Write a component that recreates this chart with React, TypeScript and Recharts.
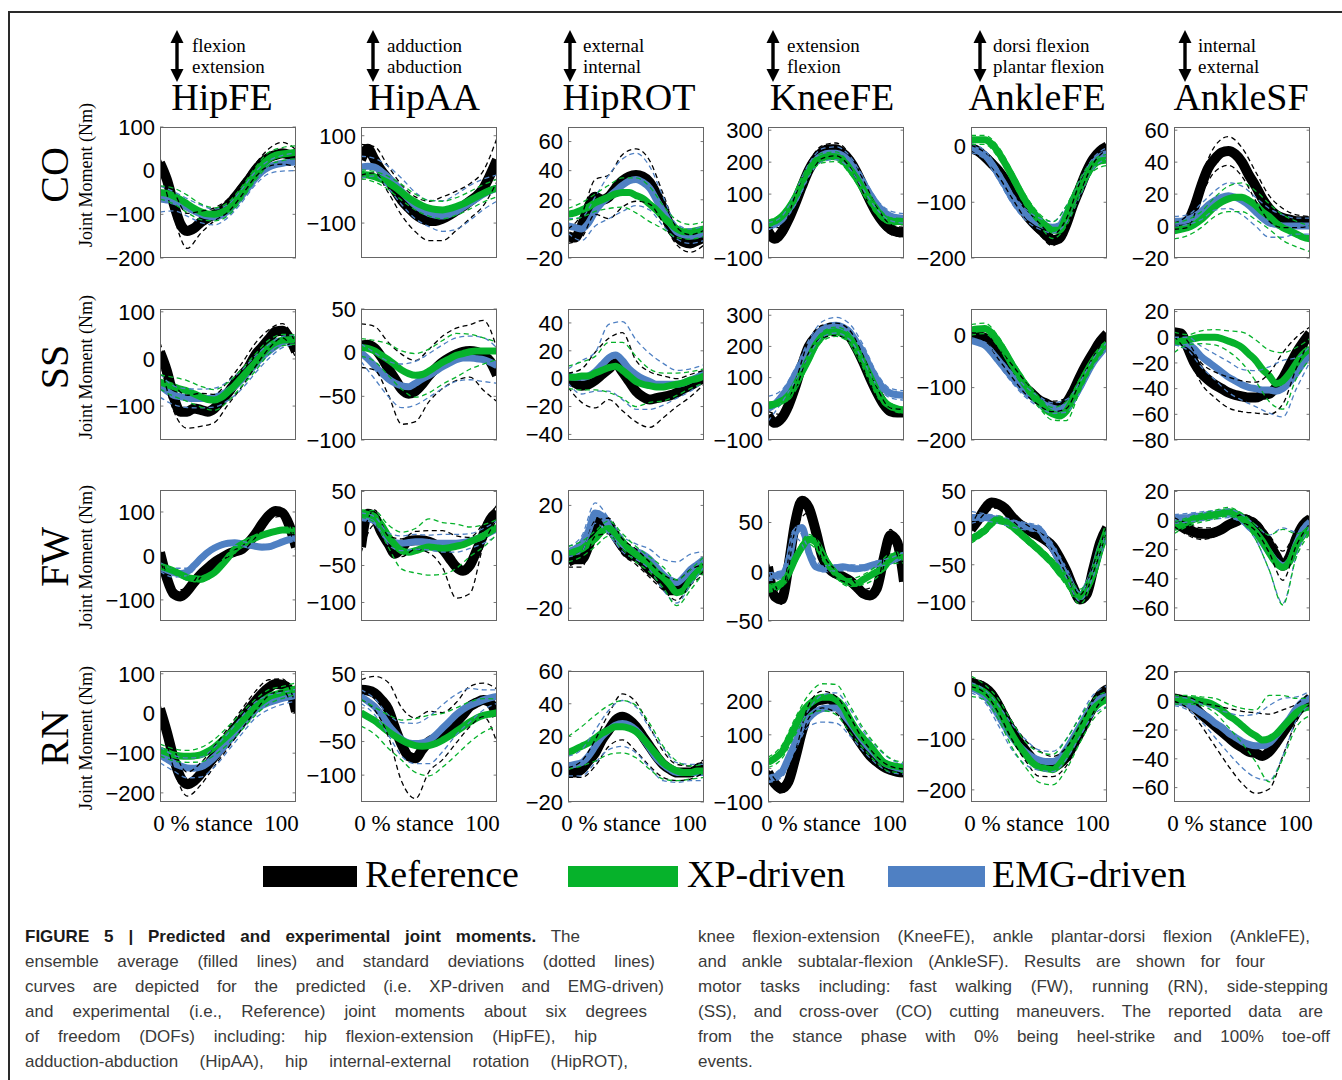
import React from "react";
import { LineChart, Line, XAxis, YAxis, ReferenceLine } from "recharts";

// stance phase samples (%) for the means, and for the standard deviations
const STANCE = [0, 5, 10, 15, 20, 25, 30, 35, 40, 45, 50, 55, 60, 65, 70, 75, 80, 85, 90, 95, 100];
const SD_STANCE = [0, 10, 20, 30, 40, 50, 60, 70, 80, 90, 100];

const TASKS = ["CO", "SS", "FW", "RN"];
const JOINTS = ["HipFE", "HipAA", "HipROT", "KneeFE", "AnkleFE", "AnkleSF"];
const JOINT_POS = ["flexion", "adduction", "external", "extension", "dorsi flexion", "internal"];
const JOINT_NEG = ["extension", "abduction", "internal", "flexion", "plantar flexion", "external"];
const SERIES_NAMES = ["Reference", "XP-driven", "EMG-driven"];

// ---- CO ----
const coHipFE = {
  domain: [-200, 100], ticks: [-200, -100, 0, 100],
  ref: [18, -20, -75, -122, -138, -132, -118, -108, -100, -92, -80, -62, -42, -22, 0, 18, 30, 36, 40, 36, 28],
  xp: [-50, -52, -58, -66, -76, -86, -94, -99, -100, -96, -88, -72, -52, -30, -8, 12, 27, 35, 38, 40, 42],
  emg: [-65, -67, -70, -76, -84, -92, -99, -104, -106, -102, -92, -76, -58, -38, -18, -2, 8, 14, 17, 19, 20],
  refSd: [10, 30, 40, 25, 15, 15, 15, 15, 20, 25, 20],
  xpSd: [15, 18, 20, 18, 15, 15, 15, 15, 15, 15, 15],
  emgSd: [30, 22, 20, 20, 18, 15, 15, 15, 15, 18, 20],
};
const coHipAA = {
  domain: [-180, 120], ticks: [-100, 0, 100],
  ref: [45, 70, 45, 20, 0, -25, -48, -65, -80, -90, -95, -95, -90, -82, -72, -62, -50, -38, -20, 10, 45],
  xp: [12, 10, 6, 0, -8, -18, -30, -42, -52, -60, -66, -69, -70, -67, -62, -56, -48, -40, -32, -25, -20],
  emg: [28, 30, 28, 18, 5, -10, -28, -45, -60, -70, -78, -82, -84, -80, -74, -64, -54, -44, -34, -26, -20],
  refSd: [35, 30, 30, 35, 40, 45, 50, 45, 40, 40, 50],
  xpSd: [10, 12, 15, 18, 18, 18, 20, 20, 20, 20, 20],
  emgSd: [25, 20, 25, 30, 30, 30, 35, 40, 40, 35, 30],
};
const coHipROT = {
  domain: [-20, 70], ticks: [-20, 0, 20, 40, 60],
  ref: [-5, -6, 2, 15, 22, 20, 22, 28, 33, 36, 37, 36, 32, 24, 14, 2, -5, -9, -10, -8, -6],
  xp: [10, 11, 13, 15, 18, 20, 22, 24, 25, 25, 23, 21, 17, 13, 8, 4, 0, -2, -2, -1, 0],
  emg: [2, 1, 0, 4, 12, 18, 22, 26, 30, 33, 34, 32, 28, 20, 12, 4, -2, -4, -5, -4, -3],
  refSd: [5, 8, 12, 15, 18, 18, 15, 10, 6, 6, 5],
  xpSd: [4, 5, 6, 8, 10, 12, 12, 8, 6, 5, 5],
  emgSd: [5, 8, 10, 15, 18, 18, 15, 10, 5, 5, 5],
};
const coKneeFE = {
  domain: [-100, 310], ticks: [-100, 0, 100, 200, 300],
  ref: [-15, -40, -20, 20, 70, 125, 175, 210, 232, 240, 240, 228, 205, 170, 125, 80, 40, 10, -10, -18, -20],
  xp: [8, 15, 30, 55, 90, 135, 175, 200, 213, 218, 217, 205, 180, 150, 115, 82, 50, 25, 16, 14, 14],
  emg: [0, 5, 20, 50, 85, 130, 175, 205, 222, 228, 228, 220, 200, 170, 135, 100, 68, 45, 32, 26, 24],
  refSd: [10, 15, 25, 25, 20, 20, 20, 20, 20, 15, 15],
  xpSd: [10, 10, 15, 15, 15, 15, 15, 15, 15, 10, 10],
  emgSd: [10, 10, 20, 20, 20, 20, 20, 20, 15, 15, 15],
};
const coAnkleFE = {
  domain: [-200, 35], ticks: [-200, -100, 0],
  ref: [-3, -8, -18, -30, -43, -60, -82, -103, -120, -135, -147, -158, -168, -165, -140, -105, -75, -45, -22, -8, 0],
  xp: [12, 12, 12, 5, -10, -30, -52, -75, -97, -115, -130, -142, -150, -150, -125, -95, -73, -52, -34, -26, -24],
  emg: [-3, -8, -15, -30, -50, -70, -92, -110, -122, -130, -138, -143, -145, -142, -122, -98, -75, -50, -30, -18, -12],
  refSd: [5, 8, 10, 10, 10, 10, 10, 10, 10, 8, 5],
  xpSd: [8, 8, 10, 10, 10, 10, 15, 18, 15, 10, 10],
  emgSd: [8, 8, 10, 10, 10, 10, 10, 15, 15, 10, 10],
};
const coAnkleSF = {
  domain: [-20, 62], ticks: [-20, 0, 20, 40, 60],
  ref: [0, 1, 3, 12, 25, 36, 42, 46, 47, 45, 40, 32, 25, 17, 11, 7, 5, 4, 3, 3, 3],
  xp: [-3, -2, -1, 1, 4, 8, 12, 15, 17, 18, 18, 16, 13, 9, 6, 2, -1, -3, -5, -7, -8],
  emg: [3, 3, 4, 6, 9, 13, 16, 18, 19, 18, 16, 13, 9, 5, 2, 1, 0, 0, 0, 0, 0],
  refSd: [2, 4, 6, 8, 9, 9, 9, 8, 6, 4, 3],
  xpSd: [5, 5, 5, 6, 8, 9, 9, 8, 8, 8, 8],
  emgSd: [3, 3, 5, 6, 8, 9, 9, 9, 7, 5, 5],
};

// ---- SS ----
const ssHipFE = {
  domain: [-172, 106], ticks: [-100, 0, 100],
  ref: [15, -25, -80, -112, -112, -105, -108, -112, -105, -88, -72, -52, -35, -18, 8, 25, 42, 58, 60, 45, 16],
  xp: [-49, -54, -59, -64, -68, -74, -80, -86, -87, -82, -70, -56, -40, -24, -8, 10, 25, 35, 40, 41, 41],
  emg: [-56, -68, -77, -80, -83, -84, -84, -84, -82, -76, -68, -58, -44, -28, -12, 4, 16, 27, 36, 40, 41],
  refSd: [20, 30, 35, 35, 30, 25, 25, 25, 20, 15, 15],
  xpSd: [15, 20, 22, 22, 22, 20, 18, 18, 15, 12, 10],
  emgSd: [25, 20, 20, 20, 20, 20, 20, 18, 15, 12, 10],
};
const ssHipAA = {
  domain: [-100, 50], ticks: [-100, -50, 0, 50],
  ref: [8, 9, 5, -5, -18, -30, -42, -47, -44, -36, -26, -18, -11, -6, -2, 1, 2, 1, -3, -10, -26],
  xp: [6, 5, 2, -3, -8, -14, -20, -24, -26, -25, -21, -16, -11, -7, -3, -1, 1, 2, 2, 2, 2],
  emg: [0, -7, -15, -23, -30, -35, -38, -39, -35, -30, -26, -21, -16, -12, -8, -6, -6, -7, -8, -11, -15],
  refSd: [25, 25, 30, 40, 35, 30, 30, 30, 30, 40, 30],
  xpSd: [10, 12, 18, 22, 25, 25, 25, 25, 20, 15, 10],
  emgSd: [10, 15, 20, 25, 25, 25, 25, 25, 25, 25, 20],
};
const ssHipROT = {
  domain: [-44, 50], ticks: [-40, -20, 0, 20, 40],
  ref: [-1, -3, -5, -4, -1, 3, 7, 11, 5, -2, -9, -13, -15, -14, -13, -12, -10, -7, -5, -2, 1],
  xp: [1, 1, 2, 2, 4, 6, 8, 9, 6, 2, -2, -4, -5, -6, -6, -5, -4, -3, -1, 0, 2],
  emg: [2, 1, 1, 2, 5, 10, 15, 17, 13, 7, 3, 0, -2, -4, -4, -4, -4, -3, -1, 1, 4],
  refSd: [5, 12, 20, 22, 28, 22, 20, 15, 10, 8, 5],
  xpSd: [8, 10, 12, 18, 20, 18, 12, 10, 8, 6, 5],
  emgSd: [5, 12, 14, 24, 28, 25, 20, 15, 10, 8, 6],
};
const ssKneeFE = {
  domain: [-100, 320], ticks: [-100, 0, 100, 200, 300],
  ref: [-21, -45, -30, 10, 70, 140, 200, 230, 248, 255, 255, 245, 232, 195, 150, 100, 54, 15, -8, -12, -12],
  xp: [11, 15, 25, 40, 75, 118, 160, 205, 232, 245, 247, 240, 226, 190, 150, 105, 60, 25, 8, 0, -5],
  emg: [0, 15, 40, 70, 110, 150, 195, 230, 255, 265, 268, 262, 247, 215, 180, 135, 95, 65, 50, 45, 43],
  refSd: [12, 12, 15, 20, 20, 20, 20, 20, 15, 10, 10],
  xpSd: [10, 10, 15, 15, 15, 15, 15, 15, 15, 10, 10],
  emgSd: [40, 20, 20, 25, 25, 25, 25, 25, 20, 15, 15],
};
const ssAnkleFE = {
  domain: [-200, 50], ticks: [-200, -100, 0],
  ref: [0, -2, -5, -15, -35, -52, -68, -84, -100, -112, -124, -130, -136, -139, -130, -108, -80, -55, -33, -12, 3],
  xp: [10, 12, 13, 5, -12, -32, -55, -75, -95, -112, -128, -142, -150, -154, -145, -122, -95, -70, -48, -30, -16],
  emg: [-10, -14, -19, -32, -48, -64, -80, -94, -108, -118, -127, -134, -139, -142, -135, -122, -100, -75, -52, -35, -19],
  refSd: [5, 6, 10, 12, 12, 10, 10, 10, 10, 8, 5],
  xpSd: [10, 10, 10, 10, 10, 10, 12, 18, 12, 8, 8],
  emgSd: [5, 5, 8, 10, 10, 10, 10, 12, 10, 8, 5],
};
const ssAnkleSF = {
  domain: [-80, 22], ticks: [-80, -60, -40, -20, 0, 20],
  ref: [4, 3, -8, -20, -28, -33, -37, -40, -43, -45, -46, -47, -47, -45, -44, -39, -32, -22, -12, -4, 3],
  xp: [-4, -3, -2, -1, 0, 0, 0, -1, -3, -5, -8, -13, -18, -25, -30, -36, -34, -28, -20, -13, -9],
  emg: [-3, -4, -5, -9, -15, -19, -23, -27, -31, -34, -37, -39, -40, -41, -41, -42, -40, -35, -28, -20, -13],
  refSd: [3, 5, 8, 10, 12, 12, 12, 16, 20, 12, 5],
  xpSd: [8, 4, 5, 6, 8, 12, 16, 20, 22, 12, 8],
  emgSd: [3, 5, 8, 10, 12, 12, 14, 18, 22, 12, 6],
};

// ---- FW ----
const fwHipFE = {
  domain: [-148, 150], ticks: [-100, 0, 100],
  ref: [8, -50, -86, -92, -80, -60, -42, -28, -15, -5, 4, 10, 15, 30, 49, 72, 92, 102, 98, 70, 20],
  xp: [-23, -28, -34, -42, -49, -52, -53, -47, -38, -22, -4, 15, 26, 34, 41, 47, 52, 56, 59, 59, 56],
  emg: [-25, -32, -38, -40, -36, -22, -6, 8, 18, 25, 29, 30, 28, 25, 22, 20, 21, 26, 32, 37, 41],
  refSd: [8, 8, 6, 6, 6, 6, 6, 8, 8, 8, 10],
  xpSd: [5, 5, 6, 6, 5, 5, 5, 5, 5, 5, 5],
  emgSd: [10, 10, 8, 8, 5, 5, 5, 5, 5, 5, 5],
};
const fwHipAA = {
  domain: [-125, 52], ticks: [-100, -50, 0, 50],
  ref: [-25, 20, 15, -5, -20, -34, -26, -17, -16, -16, -18, -22, -28, -40, -52, -57, -50, -30, -8, 12, 22],
  xp: [20, 19, 16, 5, -10, -22, -30, -32, -30, -27, -25, -26, -27, -26, -24, -22, -18, -14, -10, -4, 2],
  emg: [16, 14, 11, 0, -14, -19, -20, -19, -18, -18, -19, -20, -20, -20, -20, -19, -17, -14, -10, -5, 0],
  refSd: [8, 10, 10, 12, 12, 15, 25, 42, 38, 15, 10],
  xpSd: [5, 8, 15, 25, 30, 38, 35, 30, 20, 15, 10],
  emgSd: [5, 5, 8, 10, 10, 10, 12, 12, 10, 10, 10],
};
const fwHipROT = {
  domain: [-25, 26], ticks: [-20, 0, 20],
  ref: [-2, -1, -1, 4, 11, 15, 12, 8, 4, 1, 0, -2, -5, -7, -10, -13, -13, -11, -8, -5, -5],
  xp: [1, 2, 3, 5, 7, 10, 11, 9, 6, 3, 1, -1, -3, -6, -8, -11, -14, -13, -9, -6, -3],
  emg: [2, 3, 5, 10, 17, 16, 12, 7, 5, 3, 2, 1, -1, -4, -7, -9, -10, -8, -5, -3, -1],
  refSd: [2, 3, 3, 3, 3, 3, 3, 3, 4, 3, 2],
  xpSd: [3, 3, 3, 3, 3, 3, 3, 4, 5, 4, 3],
  emgSd: [2, 3, 4, 3, 3, 3, 4, 6, 8, 6, 3],
};
const fwKneeFE = {
  domain: [-50, 83], ticks: [-50, 0, 50],
  ref: [5, -25, -28, 5, 50, 72, 65, 42, 15, 3, -2, -5, -9, -15, -22, -24, -17, 13, 37, 30, -10],
  xp: [-17, -15, -12, -2, 13, 25, 33, 30, 18, 6, -2, -8, -11, -12, -8, -4, 0, 4, 13, 17, 13],
  emg: [-5, -4, -3, 10, 40, 45, 20, 5, 3, 3, 4, 5, 4, 3, 4, 6, 8, 9, 11, 14, 17],
  refSd: [5, 5, 8, 5, 5, 4, 4, 4, 5, 6, 5],
  xpSd: [4, 4, 5, 5, 4, 4, 4, 5, 6, 5, 4],
  emgSd: [4, 4, 5, 4, 3, 3, 3, 3, 3, 3, 3],
};
const fwAnkleFE = {
  domain: [-126, 51], ticks: [-100, -50, 0, 50],
  ref: [-2, 10, 25, 34, 32, 26, 15, 6, 0, -6, -11, -17, -25, -40, -58, -80, -97, -90, -55, -20, 0],
  xp: [-16, -10, -4, 6, 11, 8, 2, -6, -14, -22, -30, -39, -48, -60, -70, -85, -93, -82, -62, -30, -2],
  emg: [14, 14, 14, 13, 11, 8, 6, 4, 2, 0, -2, -15, -28, -45, -62, -82, -93, -80, -60, -28, -7],
  refSd: [4, 6, 5, 5, 5, 5, 5, 5, 6, 5, 4],
  xpSd: [5, 5, 5, 5, 5, 5, 6, 8, 10, 8, 5],
  emgSd: [8, 5, 5, 5, 5, 5, 5, 5, 6, 5, 5],
};
const fwAnkleSF = {
  domain: [-69, 21], ticks: [-60, -40, -20, 0, 20],
  ref: [-1, -4, -6, -8, -9, -9, -8, -6, -3, -1, 1, 0, -3, -9, -16, -24, -31, -25, -12, -3, 1],
  xp: [-5, -3, -1, 1, 2, 3, 4, 5, 6, 5, 2, -3, -8, -14, -22, -29, -32, -28, -17, -10, -6],
  emg: [1, 2, 2, 3, 3, 4, 4, 5, 5, 3, 1, -4, -8, -15, -22, -28, -31, -28, -16, -6, -1],
  refSd: [3, 4, 4, 3, 3, 3, 4, 6, 10, 5, 3],
  xpSd: [4, 3, 3, 3, 3, 3, 5, 12, 26, 8, 3],
  emgSd: [3, 3, 3, 3, 3, 3, 5, 12, 26, 8, 3],
};

// ---- RN ----
const rnHipFE = {
  domain: [-223, 107], ticks: [-200, -100, 0, 100],
  ref: [12, -46, -112, -160, -178, -170, -152, -130, -108, -85, -62, -38, -15, 8, 30, 50, 65, 74, 72, 60, 5],
  xp: [-92, -98, -104, -107, -108, -107, -104, -96, -85, -70, -55, -38, -20, -3, 15, 30, 42, 48, 53, 58, 62],
  emg: [-104, -115, -125, -132, -137, -138, -135, -125, -110, -92, -72, -52, -30, -10, 8, 20, 28, 33, 38, 42, 46],
  refSd: [10, 25, 30, 28, 25, 25, 25, 25, 20, 15, 15],
  xpSd: [15, 15, 15, 18, 20, 22, 22, 20, 18, 15, 15],
  emgSd: [20, 20, 25, 25, 25, 22, 22, 20, 18, 15, 15],
};
const rnHipAA = {
  domain: [-140, 55], ticks: [-100, -50, 0, 50],
  ref: [27, 26, 22, 12, -2, -30, -55, -72, -75, -62, -50, -45, -42, -35, -22, -10, 2, 8, 12, 8, -12],
  xp: [-7, -13, -19, -27, -35, -42, -48, -53, -56, -57, -56, -53, -48, -42, -35, -28, -21, -15, -11, -9, -7],
  emg: [17, 10, 2, -10, -25, -37, -47, -52, -53, -52, -48, -40, -30, -20, -10, -2, 4, 8, 12, 15, 17],
  refSd: [15, 25, 40, 55, 60, 45, 35, 30, 30, 25, 40],
  xpSd: [20, 20, 25, 30, 40, 45, 40, 35, 30, 25, 20],
  emgSd: [10, 12, 15, 25, 30, 35, 35, 30, 25, 15, 10],
};
const rnHipROT = {
  domain: [-20, 60], ticks: [-20, 0, 20, 40, 60],
  ref: [-2, -2, 0, 5, 10, 18, 24, 30, 32, 30, 26, 20, 14, 8, 3, 0, -2, -2, -2, 0, 2],
  xp: [10, 12, 14, 16, 19, 22, 24, 26, 26, 25, 23, 19, 14, 9, 4, 1, -1, -2, -2, -1, -1],
  emg: [2, 3, 4, 8, 14, 20, 24, 27, 28, 27, 24, 19, 13, 7, 3, 0, -2, -2, -2, -2, -2],
  refSd: [3, 5, 8, 10, 14, 15, 12, 8, 5, 4, 4],
  xpSd: [10, 12, 14, 15, 16, 16, 14, 10, 6, 4, 4],
  emgSd: [6, 8, 10, 12, 14, 14, 12, 10, 6, 5, 5],
};
const rnKneeFE = {
  domain: [-100, 290], ticks: [-100, 0, 100, 200],
  ref: [-12, -45, -60, -40, 30, 110, 170, 200, 205, 208, 190, 170, 130, 95, 65, 38, 20, 5, -4, -10, -12],
  xp: [18, 30, 48, 85, 125, 165, 190, 205, 212, 212, 205, 185, 148, 115, 90, 68, 42, 18, 10, 6, 3],
  emg: [-32, -25, -12, 30, 75, 125, 150, 168, 178, 180, 180, 162, 138, 110, 82, 58, 38, 18, 8, 2, -2],
  refSd: [10, 15, 20, 20, 25, 25, 25, 20, 15, 10, 10],
  xpSd: [15, 20, 25, 30, 40, 45, 40, 30, 25, 20, 15],
  emgSd: [10, 15, 20, 25, 40, 45, 40, 30, 25, 20, 15],
};
const rnAnkleFE = {
  domain: [-224, 35], ticks: [-200, -100, 0],
  ref: [12, 8, 2, -10, -32, -58, -82, -104, -122, -138, -148, -152, -154, -148, -135, -112, -88, -60, -35, -12, -1],
  xp: [5, 0, -7, -20, -40, -65, -90, -112, -130, -146, -155, -158, -160, -150, -130, -106, -82, -58, -40, -28, -21],
  emg: [2, -4, -14, -30, -52, -75, -95, -112, -125, -135, -141, -144, -144, -138, -120, -98, -75, -52, -32, -20, -15],
  refSd: [8, 10, 15, 18, 20, 25, 20, 18, 15, 12, 10],
  xpSd: [20, 15, 20, 25, 25, 30, 30, 30, 25, 20, 15],
  emgSd: [10, 12, 20, 25, 25, 20, 20, 20, 20, 20, 20],
};
const rnAnkleSF = {
  domain: [-70, 21], ticks: [-60, -40, -20, 0, 20],
  ref: [2, 1, -1, -4, -9, -13, -17, -21, -25, -29, -32, -35, -36, -38, -35, -29, -22, -15, -8, -2, 2],
  xp: [1, 1, 1, 1, 0, -1, -3, -6, -10, -13, -17, -21, -24, -27, -26, -23, -18, -13, -8, -5, -4],
  emg: [0, -1, -2, -5, -8, -11, -15, -18, -22, -25, -28, -30, -31, -31, -29, -24, -18, -12, -5, 0, 2],
  refSd: [2, 4, 8, 14, 20, 25, 28, 26, 16, 6, 4],
  xpSd: [3, 3, 3, 5, 8, 12, 18, 30, 22, 10, 6],
  emgSd: [3, 4, 6, 10, 14, 18, 22, 26, 20, 8, 5],
};

const PANEL_ROWS = [
  [coHipFE, coHipAA, coHipROT, coKneeFE, coAnkleFE, coAnkleSF],
  [ssHipFE, ssHipAA, ssHipROT, ssKneeFE, ssAnkleFE, ssAnkleSF],
  [fwHipFE, fwHipAA, fwHipROT, fwKneeFE, fwAnkleFE, fwAnkleSF],
  [rnHipFE, rnHipAA, rnHipROT, rnKneeFE, rnAnkleFE, rnAnkleSF],
];

const CAPTION_LEFT = [
  "ensemble average (filled lines) and standard deviations (dotted lines)",
  "curves are depicted for the predicted (i.e. XP-driven and EMG-driven)",
  "and experimental (i.e., Reference) joint moments about six degrees",
  "of freedom (DOFs) including: hip flexion-extension (HipFE), hip",
  "adduction-abduction (HipAA), hip internal-external rotation (HipROT),",
];
const CAPTION_RIGHT = [
  "knee flexion-extension (KneeFE), ankle plantar-dorsi flexion (AnkleFE),",
  "and ankle subtalar-flexion (AnkleSF). Results are shown for four",
  "motor tasks including: fast walking (FW), running (RN), side-stepping",
  "(SS), and cross-over (CO) cutting maneuvers. The reported data are",
  "from the stance phase with 0% being heel-strike and 100% toe-off",
  "events.",
];

// layout & style
const SERIF = "'Liberation Serif', 'Times New Roman', serif";
const SANS = "'Liberation Sans', Arial, sans-serif";
const NARROW = "'Liberation Sans Narrow', 'Liberation Sans', Arial, sans-serif";
const REF_COLOR = "#000000";
const XP_COLOR = "#06b22b";
const EMG_COLOR = "#4f80c3";

const COL_X = [160, 361, 568, 768, 971, 1174];
const ROW_Y = [127, 309, 490, 671];
const PLOT_W = 136;
const PLOT_H = 131;
const AXIS_W = 70;
const PAD_T = 12;
const PAD_B = 12;
const PAD_R = 4;
const CHART_W = AXIS_W + PLOT_W + PAD_R;
const CHART_H = PLOT_H + PAD_T + PAD_B;

const ARROW_X = [177, 373, 570, 773, 980, 1185];
const HEAD_LABEL_X = [192, 387, 583, 787, 993, 1198];
const TITLE_X = [222, 424, 629, 832, 1037, 1241];
const ROW_MID = [175, 367, 557, 738];
const LEFT_ENDS = [580, 655, 664, 647, 597, 628];
const RIGHT_ENDS = [1310, 1265, 1328, 1323, 1330];

const fmtTick = (v: number) => String(v).replace("-", "\u2212");

function buildRows(p: any) {
  return STANCE.map((t, i) => {
    const row: Record<string, number | null> = { t, ref: p.ref[i], xp: p.xp[i], emg: p.emg[i] };
    const j = SD_STANCE.indexOf(t);
    for (const k of ["ref", "xp", "emg"]) {
      const sd = j >= 0 ? p[k + "Sd"][j] : null;
      row[k + "Hi"] = sd == null ? null : p[k][i] + sd;
      row[k + "Lo"] = sd == null ? null : p[k][i] - sd;
    }
    return row;
  });
}

function JointPanel({ p, x, y }: { p: any; x: number; y: number }) {
  const rows = buildRows(p);
  const dashed = (key: string, color: string) => (
    <Line
      key={key}
      dataKey={key}
      type="monotone"
      stroke={color}
      strokeWidth={1.3}
      strokeDasharray="5 3.5"
      dot={false}
      connectNulls
      isAnimationActive={false}
    />
  );
  return (
    <div style={{ position: "absolute", left: x - AXIS_W, top: y - PAD_T, width: CHART_W, height: CHART_H }}>
      <LineChart width={CHART_W} height={CHART_H} data={rows} margin={{ top: PAD_T, right: PAD_R, bottom: PAD_B, left: 0 }}>
        <XAxis dataKey="t" type="number" domain={[0, 100]} hide allowDataOverflow />
        <YAxis
          type="number"
          domain={p.domain}
          ticks={p.ticks}
          allowDataOverflow
          interval={0}
          width={AXIS_W}
          axisLine={false}
          tickLine={false}
          tickSize={0}
          tickMargin={5}
          tick={{ fontSize: 22, fill: "#000", fontFamily: SANS }}
          tickFormatter={fmtTick}
        />
        {p.ticks.map((v: number) => (
          <ReferenceLine key={"tl" + v} segment={[{ x: 0, y: v }, { x: 2.5, y: v }]} stroke="#777" strokeWidth={1} />
        ))}
        {p.ticks.map((v: number) => (
          <ReferenceLine key={"tr" + v} segment={[{ x: 97.5, y: v }, { x: 100, y: v }]} stroke="#777" strokeWidth={1} />
        ))}
        <Line dataKey="ref" type="monotone" stroke={REF_COLOR} strokeWidth={10} dot={false} isAnimationActive={false} />
        <Line dataKey="emg" type="monotone" stroke={EMG_COLOR} strokeWidth={7} dot={false} isAnimationActive={false} />
        <Line dataKey="xp" type="monotone" stroke={XP_COLOR} strokeWidth={7} dot={false} isAnimationActive={false} />
        {dashed("refHi", REF_COLOR)}
        {dashed("refLo", REF_COLOR)}
        {dashed("emgHi", EMG_COLOR)}
        {dashed("emgLo", EMG_COLOR)}
        {dashed("xpHi", XP_COLOR)}
        {dashed("xpLo", XP_COLOR)}
      </LineChart>
      <div
        style={{
          position: "absolute",
          left: AXIS_W,
          top: PAD_T,
          width: PLOT_W,
          height: PLOT_H,
          border: "1px solid #666",
          boxSizing: "border-box",
          pointerEvents: "none",
        }}
      />
    </div>
  );
}

function UpDownArrow({ x }: { x: number }) {
  return (
    <g fill="#000">
      <rect x={x - 1.7} y={40} width={3.4} height={32} />
      <polygon points={`${x - 6.5},43 ${x},30 ${x + 6.5},43`} />
      <polygon points={`${x - 6.5},69 ${x},82 ${x + 6.5},69`} />
    </g>
  );
}

function CaptionLine({ left, right, baseline, last, children }: any) {
  return (
    <div
      style={{
        position: "absolute",
        left,
        top: baseline - 18,
        width: right ? right - left : undefined,
        fontFamily: NARROW,
        fontSize: 17,
        lineHeight: "25px",
        color: "#3a3a3a",
        textAlign: "justify",
        textAlignLast: last ? "left" : "justify",
        whiteSpace: last ? "nowrap" : "normal",
      }}
    >
      {children}
    </div>
  );
}

export default function App() {
  const legendRects = [
    { x: 263, w: 94, tx: 365, color: REF_COLOR },
    { x: 568, w: 110, tx: 687, color: XP_COLOR },
    { x: 888, w: 97, tx: 992, color: EMG_COLOR },
  ];
  return (
    <div style={{ position: "absolute", left: 0, top: 0, width: 1342, height: 1080, overflow: "hidden", background: "#fff" }}>
      <div style={{ position: "absolute", left: 8, top: 11, width: 1500, height: 1300, border: "2px solid #2a2a2a" }} />
      <svg width={1342} height={1080} style={{ position: "absolute", left: 0, top: 0 }}>
        {JOINTS.map((j, c) => (
          <g key={j} fontFamily={SERIF} fill="#000">
            <UpDownArrow x={ARROW_X[c]} />
            <text x={HEAD_LABEL_X[c]} y={52} fontSize={19}>{JOINT_POS[c]}</text>
            <text x={HEAD_LABEL_X[c]} y={73} fontSize={19}>{JOINT_NEG[c]}</text>
            <text x={TITLE_X[c]} y={110} fontSize={38} textAnchor="middle">{j}</text>
            <text
              x={COL_X[c] + PLOT_W / 2 - 2}
              y={831}
              fontSize={23}
              textAnchor="middle"
              xmlSpace="preserve"
              style={{ whiteSpace: "pre" }}
            >
              {"0 % stance  100"}
            </text>
          </g>
        ))}
        {TASKS.map((t, r) => (
          <g key={t} fontFamily={SERIF} fill="#000">
            <text transform={`translate(54 ${ROW_MID[r]}) rotate(-90)`} textAnchor="middle" dominantBaseline="central" fontSize={40}>
              {t}
            </text>
            <text transform={`translate(86 ${ROW_MID[r]}) rotate(-90)`} textAnchor="middle" dominantBaseline="central" fontSize={18}>
              Joint Moment (Nm)
            </text>
          </g>
        ))}
        {legendRects.map((l, i) => (
          <g key={SERIES_NAMES[i]}>
            <rect x={l.x} y={866} width={l.w} height={21} fill={l.color} />
            <text x={l.tx} y={887} fontSize={38} fontFamily={SERIF} fill="#000">{SERIES_NAMES[i]}</text>
          </g>
        ))}
      </svg>

      {PANEL_ROWS.map((row, r) =>
        row.map((p, c) => <JointPanel key={TASKS[r] + JOINTS[c]} p={p} x={COL_X[c]} y={ROW_Y[r]} />)
      )}

      <CaptionLine left={25} right={LEFT_ENDS[0]} baseline={942}>
        <b style={{ color: "#1a1a1a" }}>FIGURE 5 | Predicted and experimental joint moments.</b> The
      </CaptionLine>
      {CAPTION_LEFT.map((s, i) => (
        <CaptionLine key={"l" + i} left={25} right={LEFT_ENDS[i + 1]} baseline={967 + 25 * i}>{s}</CaptionLine>
      ))}
      {CAPTION_RIGHT.map((s, i) => (
        <CaptionLine key={"r" + i} left={698} right={RIGHT_ENDS[i]} baseline={942 + 25 * i} last={i === CAPTION_RIGHT.length - 1}>
          {s}
        </CaptionLine>
      ))}
    </div>
  );
}
